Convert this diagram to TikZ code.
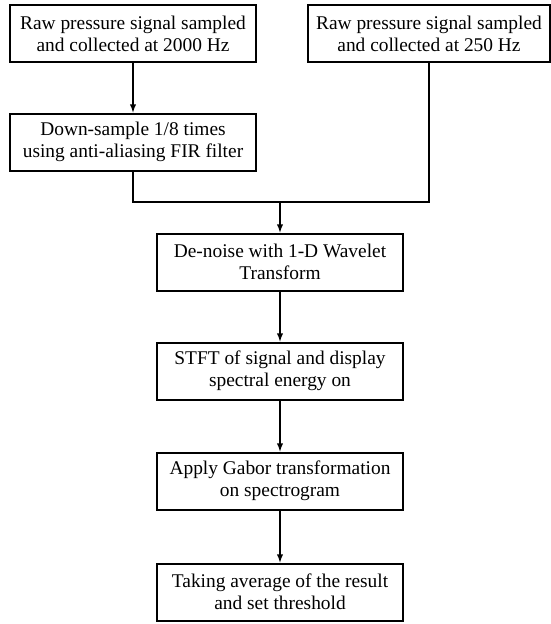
\documentclass[tikz,border=0pt]{standalone}
\usepackage{fontspec}
\setmainfont{Liberation Serif}
\usetikzlibrary{arrows,positioning,graphs}

\begin{document}
\begin{tikzpicture}
	% Styles
	[
	x=1pt,y=-1pt,
	stage/.style={draw,line width=2pt,minimum width=246pt,minimum height=57pt,inner sep=2pt,align=center,font=\fontsize{19.4}{22}\selectfont},
	link/.style={line width=1.8pt},
	>=latex,
	]
	\useasboundingbox (0,0) rectangle (551,624);

	% Nodes
	\node at (133,33.5)	(raw1)		[stage] {Raw pressure signal sampled\\and collected at 2000 Hz};
	\node at (429,33.5)	(raw2)		[stage,minimum width=242pt] {Raw pressure signal sampled\\and collected at 250 Hz};
	\node at (133,142)	(down)		[stage] {Down-sample 1/8 times\\using anti-aliasing FIR filter};
	\node at (280,262)	(denoise)	[stage] {De-noise with 1-D Wavelet\\Transform};
	\node at (280,371)	(stft)		[stage] {STFT of signal and display\\spectral energy on};
	\node at (280,481)	(gabor)		[stage] {Apply Gabor transformation\\on spectrogram};
	\node at (280,592)	(avg)		[stage] {Taking average of the result\\and set threshold};
	\coordinate (merge) at (280,202);

	% Connections
	\graph[use existing nodes, edges={link}] {
		raw1 -> down;
		denoise -> stft -> gabor -> avg;
	};
	\draw[link] (down.south) |- (merge) -| (raw2.south);
	\draw[link,->] (merge) -- (denoise.north);

\end{tikzpicture}
\end{document}
